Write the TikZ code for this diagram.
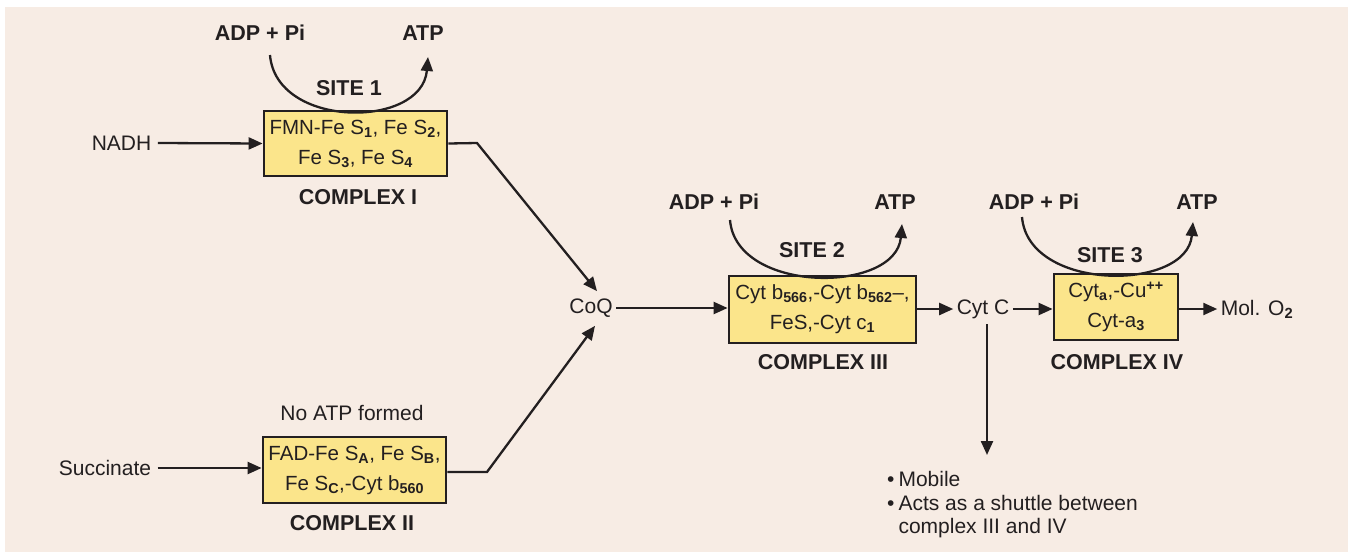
\documentclass[tikz,border=0pt]{standalone}
\usepackage{fontspec}
\setmainfont{Liberation Sans}
\usetikzlibrary{arrows.meta}
\definecolor{bgc}{HTML}{F7ECE4}
\definecolor{boxc}{HTML}{FBE58B}
\definecolor{ink}{HTML}{231F20}
\newcommand{\sbb}[1]{\textsubscript{\textbf{#1}}}
\tikzset{
  reg/.style={font=\fontsize{21}{24}\selectfont, text=ink},
  bld/.style={font=\bfseries\fontsize{21.5}{24}\selectfont, text=ink},
  cbox/.style={draw=ink, line width=2.8pt, fill=boxc, align=center, inner sep=0pt,
     font=\fontsize{20.5}{30}\selectfont, text=ink},
  arr/.style={draw=ink, line width=2.3pt, -{Triangle[length=14pt,width=12pt]}},
}
\begin{document}
\begin{tikzpicture}[x=1pt,y=-1pt]
\useasboundingbox (0,0) rectangle (1348,555);
\fill[bgc] (5,7) rectangle (1348,552);

% complex boxes
\node[cbox, minimum width=183pt, minimum height=65pt] (c1) at (355.5,143.5)
  {FMN-Fe S\sbb{1}, Fe S\sbb{2},\\ Fe S\sbb{3}, Fe S\sbb{4}};
\node[cbox, minimum width=183pt, minimum height=66pt] (c2) at (354.5,470)
  {FAD-Fe S\sbb{A}, Fe S\sbb{B},\\ Fe S\sbb{C},-Cyt b\sbb{560}};
\node[cbox, minimum width=187pt, minimum height=67pt] (c3) at (822.5,309.5)
  {Cyt b\sbb{566},-Cyt b\sbb{562}–,\\ FeS,-Cyt c\sbb{1}};
\node[cbox, minimum width=124pt, minimum height=66pt] (c4) at (1116,307)
  {Cyt\sbb{a},-Cu\textsuperscript{\textbf{++}}\\ Cyt-a\sbb{3}};

% complex labels
\node[bld] (l1) at (358,197) {COMPLEX I};
\node[bld] (l2) at (352,523) {COMPLEX II};
\node[bld] (l3) at (823,362) {COMPLEX III};
\node[bld] (l4) at (1117,362) {COMPLEX IV};

% substrates / carriers
\node[reg] (nadh) at (121.5,143) {NADH};
\node[reg] (succ) at (105,468) {Succinate};
\node[reg] (coq) at (591,308) {CoQ};
\node[reg] (cytc) at (983,309) {Cyt C};
\node[reg] (o2) at (1257,309) {Mol. O\sbb{2}};
\node[reg] (noatp) at (352,413) {No ATP formed};

% ADP / ATP / sites
\node[bld] (adp1) at (260,33) {ADP + Pi};
\node[bld] (atp1) at (423,33) {ATP};
\node[bld] (s1) at (349,88) {SITE 1};
\node[bld] (adp2) at (714,202) {ADP + Pi};
\node[bld] (atp2) at (895,202) {ATP};
\node[bld] (s2) at (812,250) {SITE 2};
\node[bld] (adp3) at (1034,202) {ADP + Pi};
\node[bld] (atp3) at (1197,202) {ATP};
\node[bld] (s3) at (1110,255) {SITE 3};

\coordinate (a1s) at (270,55);  \coordinate (a1e) at (428,57);
\coordinate (a2s) at (730,220); \coordinate (a2e) at (902,224);
\coordinate (a3s) at (1022,217); \coordinate (a3e) at (1193,222);
\draw[arr] (a1s) .. controls (276,129) and (422,129) .. (a1e);
\draw[arr] (a2s) .. controls (736,294) and (896,294) .. (a2e);
\draw[arr] (a3s) .. controls (1028,292) and (1187,292) .. (a3e);

% bullets
\node[reg, anchor=north west, inner sep=0pt, font=\fontsize{21}{23.5}\selectfont] (note) at (887,470)
  {\begin{tabular}{@{}l@{\hspace{4pt}}l@{}}
   \textbullet & Mobile\\
   \textbullet & Acts as a shuttle between\\
    & complex III and IV
   \end{tabular}};
\coordinate (k1) at (477,143);
\coordinate (k2) at (487,472);
\coordinate (dn) at (987,455);

% connectors
\draw[arr] ([xshift=3pt]nadh.east) -- (c1.west);
\draw[arr] ([xshift=3pt]succ.east) -- (c2.west |- succ.east);
\draw[arr] (c1.east) -- (k1) -- ([xshift=6pt,yshift=4pt]coq.north);
\draw[arr] (c2.east |- k2) -- (k2) -- ([xshift=4pt,yshift=-5pt]coq.south);
\draw[arr] (coq.east) -- (c3.west |- coq.east);
\draw[arr] (c3.east |- cytc.west) -- (cytc.west);
\draw[arr] (cytc.east) -- (c4.west |- cytc.east);
\draw[arr] (c4.east |- o2.west) -- (o2.west);
\draw[arr] ([xshift=4pt,yshift=-2pt]cytc.south) -- (dn);
\end{tikzpicture}
\end{document}
